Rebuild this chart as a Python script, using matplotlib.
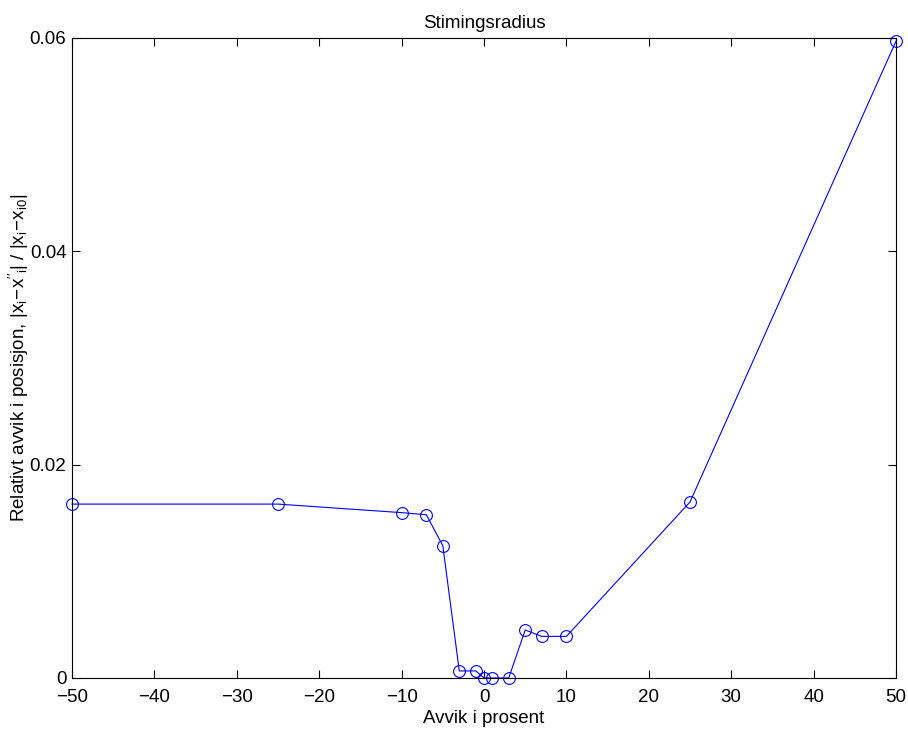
import matplotlib
matplotlib.use("Agg")
import matplotlib.pyplot as plt

plt.rcParams['font.family'] = ['Liberation Sans', 'DejaVu Sans']
plt.rcParams['mathtext.fontset'] = 'custom'
plt.rcParams['mathtext.rm'] = 'Liberation Sans'
plt.rcParams['mathtext.it'] = 'Liberation Sans'
plt.rcParams['mathtext.default'] = 'regular'

# Avvik i prosent og relativt avvik i posisjon
avvik = [-50, -25, -10, -7, -5, -3, -1, 0, 1, 3, 5, 7, 10, 25, 50]
rel_avvik = [0.0163, 0.0163, 0.0155, 0.0153, 0.0124, 0.00066, 0.00066,
             0.0, 0.0, 0.0, 0.0045, 0.0039, 0.0039, 0.0165, 0.0597]

xticks = [-50, -40, -30, -20, -10, 0, 10, 20, 30, 40, 50]
yticks = [0, 0.02, 0.04, 0.06]
yticklabels = ['0', '0.02', '0.04', '0.06']

fs = 13.5

fig = plt.figure(figsize=(9.08, 7.32), dpi=100)
ax = fig.add_axes([0.0793, 0.0738, 0.9075, 0.8744])

ax.plot(avvik, rel_avvik, color='blue', linewidth=0.8, marker='o',
        markersize=8.5, markerfacecolor='none', markeredgecolor='blue',
        markeredgewidth=0.8, clip_on=False)

ax.set_xlim(-50, 50)
ax.set_ylim(0, 0.06)
ax.set_xticks(xticks)
ax.set_xticklabels([str(t).replace('-', '\u2212') for t in xticks])
ax.set_yticks(yticks)
ax.set_yticklabels(yticklabels)
ax.tick_params(direction='in', top=True, right=True, length=6,
               labelsize=fs, width=0.8)
ax.tick_params(axis='x', pad=8)
ax.tick_params(axis='y', pad=4)
for s in ax.spines.values():
    s.set_linewidth(0.8)

ax.set_title('Stimingsradius', fontsize=fs, pad=7)
ax.set_xlabel('Avvik i prosent', fontsize=fs, labelpad=3)
ax.set_ylabel(r"Relativt avvik i posisjon, $|x_i\!-\!x''_i|\ /\ |x_i\!-\!x_{i0}|$",
              fontsize=fs, labelpad=-1)

fig.savefig('out.png', dpi=100)
